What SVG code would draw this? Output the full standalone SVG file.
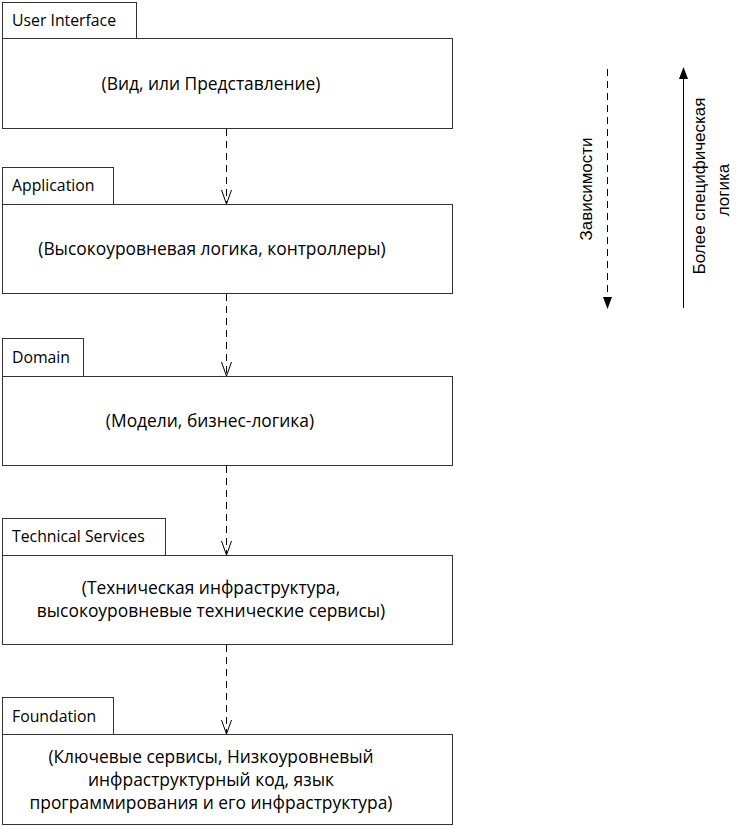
<svg xmlns="http://www.w3.org/2000/svg" width="745" height="826" viewBox="0 0 745 826">
<defs>
<style>
.box{fill:#fff;stroke:#333;stroke-width:1}
.tab{font-family:"Open Sans","Noto Sans",sans-serif;font-size:15.8px;fill:#000}
.body{font-family:"Open Sans","Noto Sans",sans-serif;font-size:17.4px;fill:#000;text-anchor:middle}
.dep{fill:none;stroke:#000;stroke-width:1;stroke-dasharray:7,5}
.side{font-family:"Liberation Sans",Arial,sans-serif;font-size:17px;fill:#000;text-anchor:middle}
</style>
<marker id="open" viewBox="0 0 16 12" markerWidth="16" markerHeight="12" refX="15" refY="6" orient="auto" markerUnits="userSpaceOnUse">
<path d="M1,1 L15,6 L1,11" fill="none" stroke="#000" stroke-width="1"/>
</marker>
</defs>
<rect width="745" height="826" fill="#fff"/>
<g id="user-interface">
<rect class="box" x="2.5" y="2.5" width="134" height="36"/>
<rect class="box" x="2.5" y="38.5" width="450" height="90"/>
<text class="tab" x="12" y="26">User Interface</text>
<text class="body" x="211" y="90">(Вид, или Представление)</text>
</g>
<g id="application">
<rect class="box" x="2.5" y="167.5" width="111" height="37"/>
<rect class="box" x="2.5" y="204.5" width="450" height="89"/>
<text class="tab" x="12" y="191">Application</text>
<text class="body" x="212" y="255">(Высокоуровневая логика, контроллеры)</text>
</g>
<g id="domain">
<rect class="box" x="2.5" y="338.5" width="81" height="38"/>
<rect class="box" x="2.5" y="376.5" width="450" height="89"/>
<text class="tab" x="12" y="363">Domain</text>
<text class="body" x="210" y="427">(Модели, бизнес-логика)</text>
</g>
<g id="technical-services">
<rect class="box" x="2.5" y="518.5" width="163" height="37"/>
<rect class="box" x="2.5" y="555.5" width="450" height="89"/>
<text class="tab" x="12" y="542">Technical Services</text>
<text class="body" x="211" y="594">(Техническая инфраструктура,</text>
<text class="body" x="211" y="617">высокоуровневые технические сервисы)</text>
</g>
<g id="foundation">
<rect class="box" x="2.5" y="697.5" width="111" height="37"/>
<rect class="box" x="2.5" y="734.5" width="450" height="90"/>
<text class="tab" x="12" y="722">Foundation</text>
<text class="body" x="211" y="763">(Ключевые сервисы, Низкоуровневый</text>
<text class="body" x="211" y="786">инфраструктурный код, язык</text>
<text class="body" x="211" y="809">программирования и его инфраструктура)</text>
</g>
<g id="connectors">
<line class="dep" x1="226.5" y1="129" x2="226.5" y2="204" marker-end="url(#open)"/>
<line class="dep" x1="226.5" y1="294" x2="226.5" y2="376" marker-end="url(#open)"/>
<line class="dep" x1="226.5" y1="466" x2="226.5" y2="555" marker-end="url(#open)"/>
<line class="dep" x1="226.5" y1="645" x2="226.5" y2="734" marker-end="url(#open)"/>
</g>
<g id="legend">
<line x1="607.5" y1="69" x2="607.5" y2="298" stroke="#000" stroke-width="1" stroke-dasharray="7,5"/>
<path d="M603,297 L612,297 L607.5,309 Z" fill="#000"/>
<line x1="683.5" y1="308" x2="683.5" y2="78" stroke="#000" stroke-width="1"/>
<path d="M679,79 L688,79 L683.5,67 Z" fill="#000"/>
<text class="side" transform="translate(592,189) rotate(-90)">Зависимости</text>
<text class="side" transform="translate(705,186) rotate(-90)">Более специфическая</text>
<text class="side" transform="translate(729,190) rotate(-90)">логика</text>
</g>
</svg>
